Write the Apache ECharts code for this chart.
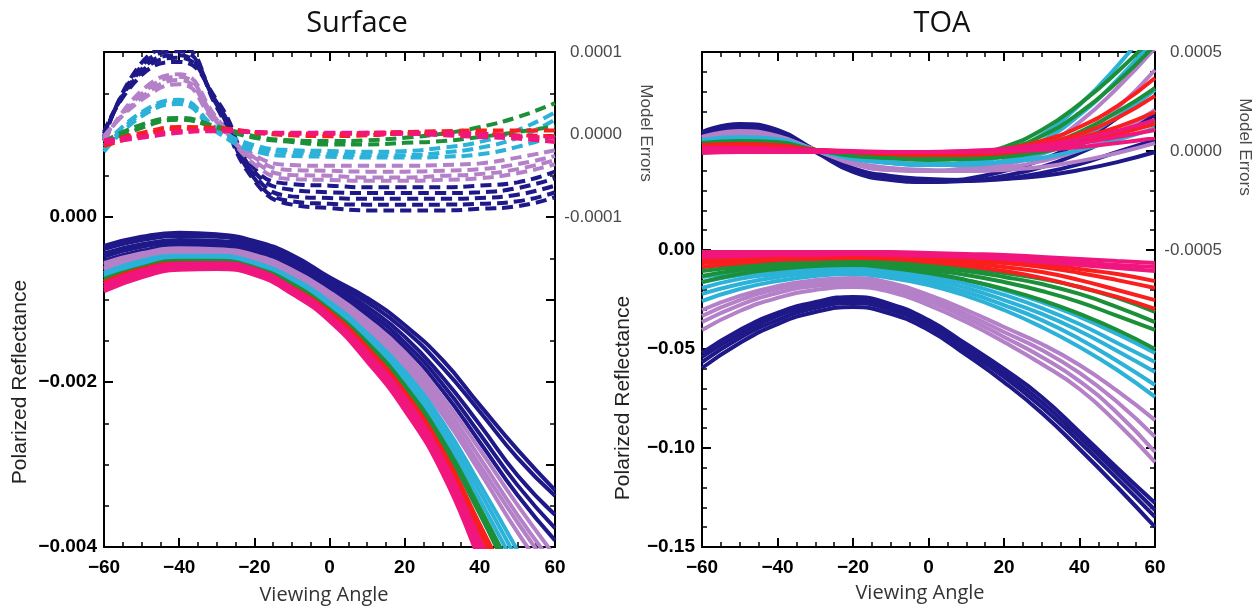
<!DOCTYPE html>
<html><head><meta charset="utf-8">
<script src="https://cdn.jsdelivr.net/npm/echarts@6/dist/echarts.min.js"></script>
<style>html,body{margin:0;padding:0;background:#fff}#c{width:1256px;height:608px}</style>
</head><body><div id="c"></div>
<script>
// ---------- data ----------
const angles = [-60,-50,-40,-30,-20,-10,0,10,20,30,40,50,60];

// Surface: polarized reflectance, in units of 1e-3
const SURF_REFL_UNIT = 1e-3;
const surfReflNavy = [
 [-0.35,-0.24,-0.19,-0.21,-0.29,-0.46,-0.73,-0.98,-1.31,-1.73,-2.28,-2.82,-3.31],
 [-0.39,-0.28,-0.23,-0.24,-0.33,-0.50,-0.76,-1.03,-1.37,-1.82,-2.36,-2.92,-3.38],
 [-0.44,-0.33,-0.28,-0.29,-0.36,-0.53,-0.80,-1.09,-1.45,-1.94,-2.52,-3.13,-3.61],
 [-0.48,-0.36,-0.32,-0.33,-0.40,-0.57,-0.84,-1.14,-1.52,-2.02,-2.63,-3.25,-3.77],
 [-0.53,-0.41,-0.35,-0.36,-0.44,-0.61,-0.87,-1.19,-1.58,-2.10,-2.73,-3.37,-3.92]
];
const surfReflPurple = [
 [-0.56,-0.44,-0.38,-0.39,-0.46,-0.64,-0.91,-1.24,-1.64,-2.18,-2.82,-3.49,-4.11],
 [-0.58,-0.46,-0.40,-0.41,-0.48,-0.67,-0.93,-1.28,-1.70,-2.25,-2.92,-3.61,-4.23],
 [-0.62,-0.48,-0.42,-0.44,-0.51,-0.69,-0.97,-1.32,-1.75,-2.32,-3.01,-3.70,-4.34],
 [-0.64,-0.51,-0.45,-0.46,-0.53,-0.72,-1.01,-1.37,-1.81,-2.39,-3.09,-3.82,-4.46]
];
const surfReflCyan = [
 [-0.68,-0.53,-0.47,-0.47,-0.55,-0.74,-1.03,-1.41,-1.87,-2.48,-3.24,-4.04,-4.88],
 [-0.70,-0.56,-0.50,-0.50,-0.57,-0.76,-1.07,-1.44,-1.93,-2.56,-3.33,-4.16,-5.01],
 [-0.73,-0.58,-0.52,-0.52,-0.59,-0.79,-1.09,-1.48,-1.98,-2.63,-3.43,-4.28,-5.13]
];
const surfReflGreen = [
 [-0.75,-0.61,-0.53,-0.53,-0.61,-0.81,-1.12,-1.52,-2.04,-2.70,-3.53,-4.40,-5.25],
 [-0.78,-0.62,-0.55,-0.55,-0.62,-0.84,-1.14,-1.55,-2.08,-2.76,-3.60,-4.52,-5.37]
];
const surfReflRed = [
 [-0.79,-0.63,-0.56,-0.56,-0.63,-0.85,-1.15,-1.58,-2.12,-2.82,-3.73,-4.64,-5.61],
 [-0.81,-0.65,-0.57,-0.57,-0.64,-0.87,-1.18,-1.61,-2.17,-2.88,-3.82,-4.76,-5.73]
];
const surfReflPink = [
 [-0.82,-0.65,-0.57,-0.56,-0.63,-0.86,-1.19,-1.64,-2.19,-2.92,-3.92,-4.88,-5.85],
 [-0.85,-0.68,-0.59,-0.58,-0.65,-0.88,-1.21,-1.67,-2.24,-2.98,-4.00,-5.01,-5.98],
 [-0.87,-0.70,-0.62,-0.61,-0.68,-0.91,-1.24,-1.71,-2.29,-3.04,-4.07,-5.13,-6.10],
 [-0.90,-0.73,-0.64,-0.63,-0.70,-0.93,-1.26,-1.75,-2.34,-3.10,-4.16,-5.25,-6.22]
];

// Surface: model errors, in units of 1e-4
const SURF_ERR_UNIT = 1e-4;
const surfErrNavy = [
 [0.03,0.72,0.88,0.42,-0.41,-0.60,-0.62,-0.64,-0.64,-0.64,-0.62,-0.58,-0.45],
 [0.01,0.76,0.93,0.39,-0.45,-0.67,-0.70,-0.71,-0.71,-0.71,-0.70,-0.65,-0.53],
 [-0.02,0.79,0.96,0.37,-0.49,-0.75,-0.77,-0.78,-0.78,-0.78,-0.77,-0.73,-0.62],
 [-0.04,0.83,1.01,0.36,-0.53,-0.81,-0.84,-0.85,-0.85,-0.85,-0.84,-0.81,-0.70],
 [-0.07,0.87,1.06,0.33,-0.56,-0.85,-0.89,-0.92,-0.92,-0.92,-0.90,-0.87,-0.76]
];
const surfErrPurple = [
 [-0.02,0.42,0.61,0.13,-0.25,-0.37,-0.38,-0.38,-0.38,-0.37,-0.35,-0.28,-0.19],
 [-0.04,0.45,0.66,0.15,-0.28,-0.43,-0.44,-0.45,-0.45,-0.44,-0.42,-0.36,-0.26],
 [-0.07,0.49,0.70,0.18,-0.32,-0.49,-0.50,-0.52,-0.52,-0.50,-0.48,-0.42,-0.31],
 [-0.09,0.53,0.73,0.20,-0.36,-0.54,-0.55,-0.56,-0.56,-0.55,-0.53,-0.47,-0.36]
];
const surfErrCyan = [
 [-0.14,0.27,0.42,0.08,-0.13,-0.19,-0.20,-0.21,-0.20,-0.16,-0.09,0.05,0.27],
 [-0.18,0.25,0.39,0.05,-0.16,-0.22,-0.24,-0.25,-0.25,-0.22,-0.16,-0.04,0.18],
 [-0.21,0.22,0.37,0.03,-0.20,-0.26,-0.27,-0.28,-0.28,-0.27,-0.24,-0.15,-0.01]
];
const surfErrGreen = [
 [-0.09,0.12,0.20,0.10,-0.02,-0.07,-0.08,-0.07,-0.04,0.01,0.09,0.21,0.38],
 [-0.13,0.08,0.18,0.08,-0.04,-0.09,-0.12,-0.12,-0.10,-0.08,-0.03,0.03,0.10]
];
const surfErrRed = [
 [-0.10,0.02,0.09,0.08,0.03,0.01,0.01,0.02,0.03,0.04,0.05,0.05,0.05],
 [-0.14,-0.01,0.07,0.07,0.02,-0.01,-0.02,-0.01,0.01,0.01,0.01,-0.01,-0.02]
];
const surfErrPink = [
 [-0.07,-0.02,0.04,0.05,0.03,0.02,0.02,0.02,0.02,0.02,0.01,-0.02,-0.04],
 [-0.10,-0.04,0.02,0.04,0.03,0.01,0.01,0.01,0.01,-0.01,-0.03,-0.05,-0.09]
];

// TOA: polarized reflectance, in units of 1e-2
const TOA_REFL_UNIT = 1e-2;
const toaReflNavy = [
 [-5.20,-4.04,-3.18,-2.63,-2.37,-2.73,-3.54,-4.75,-6.01,-7.42,-9.19,-11.01,-12.78],
 [-5.40,-4.24,-3.33,-2.78,-2.53,-2.88,-3.69,-4.90,-6.21,-7.68,-9.44,-11.26,-13.13],
 [-5.66,-4.44,-3.54,-2.93,-2.68,-3.03,-3.84,-5.10,-6.41,-7.93,-9.70,-11.56,-13.48],
 [-5.96,-4.70,-3.74,-3.13,-2.88,-3.23,-4.04,-5.30,-6.67,-8.23,-10.05,-11.97,-13.99]
];
const toaReflPurple = [
 [-3.03,-2.32,-1.82,-1.52,-1.41,-1.67,-2.27,-3.03,-3.89,-4.75,-5.81,-7.12,-8.59],
 [-3.33,-2.53,-1.97,-1.67,-1.57,-1.82,-2.42,-3.23,-4.14,-5.05,-6.21,-7.68,-9.44],
 [-3.64,-2.78,-2.17,-1.82,-1.72,-1.97,-2.58,-3.43,-4.39,-5.40,-6.62,-8.23,-10.20],
 [-4.04,-3.08,-2.42,-2.02,-1.87,-2.12,-2.78,-3.64,-4.65,-5.76,-7.02,-8.74,-10.71]
];
const toaReflCyan = [
 [-1.36,-1.11,-0.91,-0.81,-0.81,-0.91,-1.16,-1.52,-2.02,-2.63,-3.38,-4.24,-5.20],
 [-1.62,-1.26,-1.06,-0.91,-0.91,-1.06,-1.31,-1.72,-2.27,-2.93,-3.74,-4.70,-5.66],
 [-1.92,-1.46,-1.21,-1.06,-1.01,-1.16,-1.46,-1.92,-2.53,-3.23,-4.09,-5.10,-6.16],
 [-2.22,-1.72,-1.36,-1.16,-1.11,-1.26,-1.62,-2.12,-2.78,-3.54,-4.49,-5.61,-6.82],
 [-2.58,-1.97,-1.57,-1.31,-1.21,-1.41,-1.77,-2.32,-3.03,-3.89,-4.90,-6.06,-7.42]
];
const toaReflGreen = [
 [-0.86,-0.71,-0.61,-0.56,-0.56,-0.61,-0.71,-0.91,-1.16,-1.46,-1.87,-2.42,-3.13],
 [-1.06,-0.86,-0.71,-0.66,-0.61,-0.71,-0.86,-1.06,-1.36,-1.72,-2.22,-2.88,-3.64],
 [-1.31,-1.01,-0.81,-0.71,-0.71,-0.81,-1.01,-1.26,-1.62,-2.07,-2.63,-3.33,-4.04],
 [-1.62,-1.21,-0.96,-0.81,-0.76,-0.91,-1.16,-1.52,-1.97,-2.53,-3.23,-4.04,-5.00]
];
const toaReflRed = [
 [-0.35,-0.30,-0.25,-0.25,-0.25,-0.25,-0.30,-0.40,-0.56,-0.71,-0.96,-1.21,-1.57],
 [-0.51,-0.40,-0.35,-0.30,-0.30,-0.35,-0.40,-0.51,-0.66,-0.86,-1.16,-1.52,-1.92],
 [-0.66,-0.51,-0.40,-0.35,-0.35,-0.40,-0.51,-0.66,-0.86,-1.11,-1.52,-2.02,-2.53],
 [-0.86,-0.66,-0.51,-0.45,-0.40,-0.45,-0.61,-0.81,-1.06,-1.41,-1.87,-2.37,-2.98]
];
const toaReflPink = [
 [-0.10,-0.10,-0.10,-0.10,-0.10,-0.10,-0.15,-0.20,-0.25,-0.35,-0.45,-0.56,-0.66],
 [-0.20,-0.20,-0.15,-0.15,-0.15,-0.15,-0.20,-0.30,-0.35,-0.45,-0.61,-0.76,-0.86],
 [-0.35,-0.30,-0.25,-0.25,-0.20,-0.25,-0.30,-0.35,-0.45,-0.61,-0.76,-0.91,-1.06]
];

// TOA: model errors, in units of 1e-4
const TOA_ERR_UNIT = 1e-4;
const toaErrNavy = [
 [0.96,1.36,1.06,0.05,-0.86,-1.26,-1.41,-1.46,-1.41,-1.26,-0.96,-0.56,-0.05],
 [0.86,1.31,1.01,0.00,-0.96,-1.36,-1.52,-1.52,-1.41,-1.11,-0.66,-0.05,0.56],
 [0.76,1.21,0.91,0.00,-1.01,-1.41,-1.57,-1.52,-1.26,-0.81,-0.10,0.81,1.82],
 [0.66,1.11,0.86,-0.05,-1.06,-1.46,-1.57,-1.41,-1.01,-0.45,0.45,1.67,3.18]
];
const toaErrPurple = [
 [0.71,1.01,0.76,0.05,-0.56,-0.86,-0.96,-1.01,-0.96,-0.81,-0.51,-0.10,0.40],
 [0.66,0.96,0.71,0.05,-0.61,-0.91,-1.01,-1.01,-0.86,-0.51,0.05,0.91,2.07],
 [0.56,0.86,0.66,0.05,-0.61,-0.96,-1.01,-0.96,-0.71,-0.15,0.71,2.17,4.09],
 [0.45,0.76,0.61,0.05,-0.66,-0.96,-1.01,-0.86,-0.51,0.20,1.46,3.18,5.20]
];
const toaErrCyan = [
 [0.56,0.71,0.61,0.05,-0.30,-0.56,-0.66,-0.66,-0.56,-0.35,0.05,0.56,1.16],
 [0.51,0.66,0.56,0.05,-0.35,-0.61,-0.71,-0.71,-0.51,-0.10,0.66,1.72,3.08],
 [0.40,0.56,0.45,0.05,-0.35,-0.61,-0.71,-0.61,-0.25,0.51,1.82,3.59,5.71],
 [0.30,0.45,0.40,0.05,-0.40,-0.61,-0.71,-0.56,-0.10,0.81,2.32,4.29,6.62]
];
const toaErrGreen = [
 [0.40,0.51,0.45,0.05,-0.15,-0.30,-0.40,-0.40,-0.30,-0.05,0.35,0.86,1.46],
 [0.35,0.45,0.40,0.05,-0.20,-0.35,-0.45,-0.40,-0.20,0.25,0.96,1.97,3.18],
 [0.25,0.35,0.30,0.05,-0.20,-0.35,-0.40,-0.30,0.05,0.76,1.92,3.48,5.35],
 [0.20,0.30,0.25,0.05,-0.25,-0.35,-0.40,-0.25,0.20,1.06,2.37,3.99,5.86]
];
const toaErrRed = [
 [0.30,0.35,0.30,0.05,-0.05,-0.10,-0.15,-0.10,0.05,0.35,0.86,1.67,2.78],
 [0.25,0.30,0.25,0.05,-0.05,-0.15,-0.15,-0.10,0.10,0.51,1.21,2.27,3.69],
 [0.15,0.20,0.20,0.05,-0.05,-0.15,-0.20,-0.15,0.00,0.25,0.66,1.21,1.97],
 [0.05,0.10,0.10,0.05,-0.05,-0.15,-0.20,-0.20,-0.10,0.10,0.40,0.86,1.36]
];
const toaErrPink = [
 [0.15,0.15,0.10,0.05,0.00,-0.05,-0.05,0.00,0.10,0.30,0.61,1.01,1.57],
 [0.05,0.05,0.05,0.00,-0.05,-0.05,-0.05,0.00,0.05,0.20,0.40,0.71,1.06],
 [-0.10,-0.05,-0.05,-0.05,-0.05,-0.05,-0.05,-0.05,0.00,0.05,0.20,0.40,0.66]
];

const xTicks = [-60,-40,-20,0,20,40,60];

// ---------- styling ----------
const COLORS = {navy:'#1e1888', purple:'#b480c8', cyan:'#2cb2d8', green:'#1c9038', red:'#fa1e1e', pink:'#f0167e'};
const AX = '#000';
const TICKFONT = '"Liberation Sans", Arial, sans-serif';

function fmt(v, d, minusChar){
  const p = Math.pow(10, d);
  const r = Math.round(v * p) / p;
  const s = Math.abs(r).toFixed(d);
  return r < 0 ? minusChar + s : s;
}

function xAxisPair(gi){
  const base = {
    gridIndex: gi, type: 'value', min: -60, max: 60, interval: 20,
    axisLine: {show: true, onZero: false, lineStyle: {color: AX, width: 2}},
    axisTick: {show: true, inside: true, length: 9, lineStyle: {color: AX, width: 2}},
    minorTick: {show: true, splitNumber: 4, length: 5, lineStyle: {color: AX, width: 1.5}},
    splitLine: {show: false}, minorSplitLine: {show: false}
  };
  return [
    Object.assign({}, base, {position: 'bottom',
      axisLabel: {color: '#000', fontSize: 19, fontWeight: 'bold', fontFamily: TICKFONT, margin: 11,
        formatter: v => xTicks.includes(Math.round(v)) ? fmt(v, 0, '\u2212') : ''}}),
    Object.assign({}, base, {position: 'top', axisLabel: {show: false}})
  ];
}

function yAxis(gi, pos, min, max, interval, minorSplit, labelFn, primary){
  return {
    gridIndex: gi, type: 'value', position: pos, min, max, interval,
    axisLine: {show: true, onZero: false, lineStyle: {color: AX, width: 2}},
    axisTick: {show: true, inside: true, length: 9, lineStyle: {color: AX, width: 2}},
    minorTick: {show: true, splitNumber: minorSplit, length: 5, lineStyle: {color: AX, width: 1.5}},
    splitLine: {show: false}, minorSplitLine: {show: false},
    axisLabel: primary
      ? {color: '#000', fontSize: 19, fontWeight: 'bold', fontFamily: TICKFONT, margin: 7, formatter: labelFn}
      : {color: '#4a4a4a', fontSize: 17, fontFamily: TICKFONT, align: 'right', margin: 67, formatter: labelFn}
  };
}

const xAxes = [...xAxisPair(0), ...xAxisPair(1)];
const yAxes = [
  yAxis(0, 'left', -0.004, 0.002, 0.002, 4, v => v > 0.001 ? '' : fmt(v, 3, '\u2212'), true),
  yAxis(0, 'right', -0.0005, 0.0001, 0.0001, 2, v => v < -0.00015 ? '' : fmt(v, 4, '-'), false),
  yAxis(1, 'left', -0.15, 0.10, 0.05, 5, v => v > 0.01 ? '' : fmt(v, 2, '\u2212'), true),
  yAxis(1, 'right', -0.0020, 0.0005, 0.0005, 5, v => v < -0.0006 ? '' : fmt(v, 4, '-'), false)
];

const series = [];
function addGroup(arrs, color, unit, xi, yi, dashed, width){
  arrs.forEach(a => series.push({
    type: 'line', xAxisIndex: xi, yAxisIndex: yi,
    data: a.map((v, i) => [angles[i], v * unit]),
    smooth: 0.5, symbol: 'none', silent: true, clip: true,
    lineStyle: {color, width, type: dashed ? [11, 6] : 'solid', cap: 'butt'}
  }));
}
const order = ['navy','purple','cyan','green','red','pink'];
const surfRefl = [surfReflNavy, surfReflPurple, surfReflCyan, surfReflGreen, surfReflRed, surfReflPink];
const surfErr = [surfErrNavy, surfErrPurple, surfErrCyan, surfErrGreen, surfErrRed, surfErrPink];
const toaRefl = [toaReflNavy, toaReflPurple, toaReflCyan, toaReflGreen, toaReflRed, toaReflPink];
const toaErr = [toaErrNavy, toaErrPurple, toaErrCyan, toaErrGreen, toaErrRed, toaErrPink];
order.forEach((c, k) => addGroup(surfRefl[k], COLORS[c], SURF_REFL_UNIT, 0, 0, false, 4));
order.forEach((c, k) => addGroup(surfErr[k], COLORS[c], SURF_ERR_UNIT, 0, 1, true, 4));
order.forEach((c, k) => addGroup(toaRefl[k], COLORS[c], TOA_REFL_UNIT, 2, 2, false, 4));
order.forEach((c, k) => addGroup(toaErr[k], COLORS[c], TOA_ERR_UNIT, 2, 3, false, 4));

function txt(text, x, y, font, fill, rotation){
  return {type: 'text', x, y, rotation: rotation || 0, silent: true,
    style: {text, font, fill, textAlign: 'center', textVerticalAlign: 'middle'}};
}
const LABELFONT = '"Liberation Sans", Arial, sans-serif';
const graphics = [
  txt('Surface', 357, 24, '29px "Open Sans", sans-serif', '#111'),
  txt('TOA', 942, 24, '29px "Open Sans", sans-serif', '#111'),
  txt('Viewing Angle', 324, 595, '20px "Open Sans", sans-serif', '#333'),
  txt('Viewing Angle', 920, 593, '20px "Open Sans", sans-serif', '#333'),
  txt('Polarized Reflectance', 20, 382, '21px ' + LABELFONT, '#222', Math.PI / 2),
  txt('Polarized Reflectance', 623, 398, '21px ' + LABELFONT, '#222', Math.PI / 2),
  txt('Model Errors', 646, 133, '17px ' + LABELFONT, '#4a4a4a', -Math.PI / 2),
  txt('Model Errors', 1245, 147, '17px ' + LABELFONT, '#4a4a4a', -Math.PI / 2)
];

const chart = echarts.init(document.getElementById('c'), null, {renderer: 'canvas'});
chart.setOption({
  animation: false,
  backgroundColor: '#fff',
  grid: [
    {left: 104, top: 52, width: 451, height: 495, containLabel: false},
    {left: 702, top: 52, width: 453, height: 495, containLabel: false}
  ],
  xAxis: xAxes,
  yAxis: yAxes,
  series,
  graphic: graphics
});
</script>
</body></html>
